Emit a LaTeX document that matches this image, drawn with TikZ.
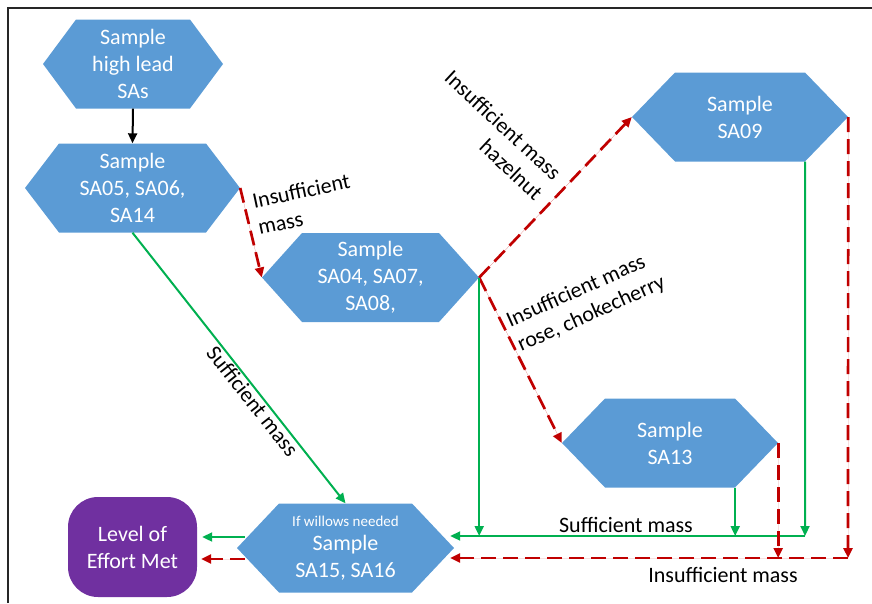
\documentclass[tikz,border=0pt]{standalone}
\usepackage{fontspec}
\setmainfont{Carlito}
\usetikzlibrary{arrows.meta}
\definecolor{hexblue}{HTML}{5B9BD5}
\definecolor{effortpurple}{HTML}{7030A0}
\definecolor{okgreen}{HTML}{00B050}
\definecolor{lowred}{HTML}{C00000}
\newcommand\boxfont{\fontsize{22}{27}\selectfont}
\newcommand\smallboxfont{\fontsize{15}{18}\selectfont}
\tikzset{
  hexnode/.style 2 args={rectangle, minimum width=#1, minimum height=89pt,
    inner sep=0pt, text=white, font=\boxfont, align=center,
    path picture={\fill[hexblue]
      (path picture bounding box.west)
      -- ([xshift=#2]path picture bounding box.north west)
      -- ([xshift=-#2]path picture bounding box.north east)
      -- (path picture bounding box.east)
      -- ([xshift=-#2]path picture bounding box.south east)
      -- ([xshift=#2]path picture bounding box.south west) -- cycle;}},
  endnode/.style={rectangle, rounded corners=30pt, fill=effortpurple,
    minimum width=129pt, minimum height=100pt, inner sep=0pt,
    text=white, font=\boxfont, align=center},
  lbl/.style={font=\boxfont, text=black, inner sep=1pt},
  tip/.style={-{Triangle[length=10pt,width=9pt]}},
  blk/.style={tip, draw=black, line width=2pt},
  grn/.style={tip, draw=okgreen, fill=okgreen, line width=2pt},
  grnline/.style={draw=okgreen, line width=2pt},
  reddash/.style={tip, draw=lowred, fill=lowred, line width=2.7pt,
    dash pattern=on 15pt off 7pt},
  reddashline/.style={draw=lowred, line width=2.7pt, dash pattern=on 15pt off 7pt},
}
\begin{document}
\begin{tikzpicture}[x=1pt, y=-1pt]
\useasboundingbox (0,0) rectangle (872,603);
% page frame
\draw[line width=1.5pt, black!85] (8,603) -- (8,8) -- (872,8);

% sampling steps
\node[hexnode={180pt}{33pt}] (s1) at (133,64) {Sample\\high lead\\SAs};
\node[hexnode={215pt}{34pt}] (s2) at (132.5,188) {Sample\\SA05, SA06,\\SA14};
\node[hexnode={217pt}{40pt}] (s3) at (370.5,277.5) {Sample\\SA04, SA07,\\SA08,};
\node[hexnode={216pt}{43pt}] (s4) at (740,117) {Sample\\SA09};
\node[hexnode={216pt}{43pt}] (s5) at (670,443) {Sample\\SA13};
\node[hexnode={217pt}{42pt}] (s6) at (345.5,548)
  {{\smallboxfont If willows needed}\\[-3pt]Sample\\SA15, SA16};
\node[endnode] (lem) at (132.5,547) {Level of\\Effort Met};

% bus junctions
\coordinate (gbus) at (805,536);
\coordinate (rbus) at (848,558);

% connectors
\draw[blk] (s1.south) -- (s2.north);
\draw[reddash] (s2.east) -- (s3.west);
\draw[reddash] (s3.east) -- (s4.west);
\draw[reddash] (s3.east) -- (s5.west);
\draw[grn] (s2.south) -- (s6.north)
  node[lbl, sloped, below, pos=0.6] {Sufficient mass};

\draw[grn] (s3.east) -- (s3.east |- gbus);
\draw[grn] ([xshift=-43pt]s5.south east) -- ([xshift=-43pt]s5.south east |- gbus);
\draw[grn] ([xshift=-43pt]s4.south east) -- (gbus);
\draw[grn] (gbus) -- ([xshift=-4pt,yshift=12pt]s6.east);

\draw[reddash] (s5.east) -- (s5.east |- rbus);
\draw[reddash] (s4.east) -- (rbus);
\draw[reddash] (rbus) -- ([xshift=-4pt,yshift=-10pt]s6.east);

\draw[grn] ([xshift=8pt,yshift=11pt]s6.west) -- ([xshift=5pt,yshift=10pt]lem.east);
\draw[reddash] ([xshift=8pt,yshift=-11pt]s6.west) -- ([xshift=4pt,yshift=-12pt]lem.east);

% connector labels
\node[lbl, rotate=12, align=left] (l1) at (304,204) {Insufficient\\mass};
\node[lbl, rotate=-43, align=right] (l2) at (494,135) {Insufficient mass\\hazelnut};
\node[lbl, rotate=24, align=left] (l3) at (586,302) {Insufficient mass\\rose, chokecherry};
\node[lbl] (l4) at (626,525) {Sufficient mass};
\node[lbl] (l5) at (723,575) {Insufficient mass};
\end{tikzpicture}
\end{document}
